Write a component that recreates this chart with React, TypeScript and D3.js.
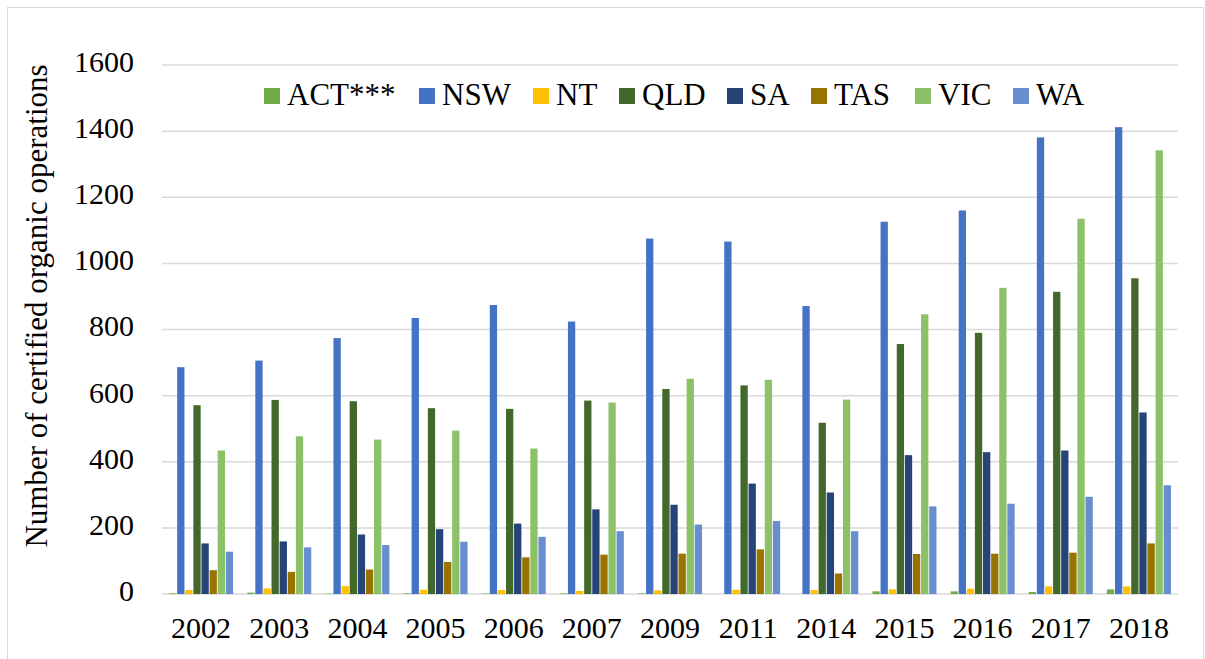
import { useEffect, useRef } from 'react';
import * as d3 from 'd3';

const years = ['2002', '2003', '2004', '2005', '2006', '2007', '2009', '2011', '2014', '2015', '2016', '2017', '2018'];
const states = ['ACT***', 'NSW', 'NT', 'QLD', 'SA', 'TAS', 'VIC', 'WA'];

const act = [2, 4, 1, 2, 1, 2, 2, 0, 0, 8, 8, 6, 14];
const nsw = [686, 706, 774, 835, 874, 824, 1075, 1066, 871, 1126, 1160, 1381, 1412];
const nt = [12, 17, 24, 13, 12, 9, 11, 13, 12, 14, 16, 23, 23];
const qld = [571, 587, 583, 562, 560, 585, 620, 631, 518, 756, 790, 914, 955];
const sa = [153, 159, 180, 196, 213, 256, 270, 334, 307, 420, 429, 434, 549];
const tas = [72, 67, 74, 97, 111, 119, 122, 135, 62, 121, 122, 125, 153];
const vic = [434, 477, 467, 494, 440, 579, 651, 648, 588, 846, 926, 1135, 1342];
const wa = [128, 141, 148, 158, 173, 190, 210, 221, 190, 265, 273, 294, 329];

const series = [act, nsw, nt, qld, sa, tas, vic, wa];
const COLORS = ['#70AD47', '#4472C4', '#FFC000', '#43682B', '#264478', '#997300', '#8CC168', '#698ED0'];
const yTicks = [0, 200, 400, 600, 800, 1000, 1200, 1400, 1600];

const FONT = "'Liberation Serif', 'Times New Roman', 'DejaVu Serif', serif";

export default function App() {
  const svgRef = useRef<SVGSVGElement>(null);

  useEffect(() => {
    if (!svgRef.current) return;
    const width = 1205;
    const height = 659;
    const margin = { top: 65, right: 27, bottom: 65, left: 162 };

    const svg = d3.select(svgRef.current);
    svg.selectAll('*').remove();
    svg.attr('width', width).attr('height', height)
      .style('font-family', FONT);

    // outer chart frame
    svg.append('rect')
      .attr('x', 7.5).attr('y', 7.5)
      .attr('width', width - 9).attr('height', height)
      .attr('fill', '#fff')
      .attr('stroke', '#d9d9d9');

    const x0 = d3.scaleBand()
      .domain(years)
      .range([margin.left, width - margin.right])
      .paddingInner(0.16)
      .paddingOuter(0.08);

    const x1 = d3.scaleBand()
      .domain(states)
      .range([0, x0.bandwidth()])
      .padding(0.1);

    const y = d3.scaleLinear()
      .domain([0, 1600])
      .range([height - margin.bottom, margin.top]);

    // Gridlines
    svg.append('g')
      .selectAll('line')
      .data(yTicks)
      .enter()
      .append('line')
      .attr('x1', margin.left)
      .attr('x2', width - margin.right)
      .attr('y1', d => y(d))
      .attr('y2', d => y(d))
      .attr('stroke', '#d9d9d9')
      .attr('stroke-width', 1.5);

    // Y tick labels
    svg.append('g')
      .selectAll('text')
      .data(yTicks)
      .enter()
      .append('text')
      .attr('x', 134)
      .attr('y', d => y(d))
      .attr('text-anchor', 'end')
      .attr('dominant-baseline', 'middle')
      .attr('font-size', '30px')
      .attr('fill', '#000')
      .text(d => d);

    // Bars
    const groups = svg.append('g')
      .selectAll('g')
      .data(years)
      .enter()
      .append('g')
      .attr('transform', d => `translate(${x0(d)},0)`);

    groups.selectAll('rect')
      .data((_, i) => series.map((s, k) => ({ key: states[k], value: s[i], k })))
      .enter()
      .append('rect')
      .attr('x', d => x1(d.key) || 0)
      .attr('y', d => y(d.value))
      .attr('width', x1.bandwidth())
      .attr('height', d => y(0) - y(d.value))
      .attr('fill', d => COLORS[d.k]);

    // X labels
    svg.append('g')
      .selectAll('text')
      .data(years)
      .enter()
      .append('text')
      .attr('x', d => (x0(d) || 0) + x0.bandwidth() / 2)
      .attr('y', 631)
      .attr('text-anchor', 'middle')
      .attr('dominant-baseline', 'middle')
      .attr('font-size', '30px')
      .attr('fill', '#000')
      .text(d => d);

    // Y axis title
    svg.append('text')
      .attr('transform', 'translate(40, 306) rotate(-90)')
      .attr('text-anchor', 'middle')
      .attr('dominant-baseline', 'middle')
      .attr('font-size', '31px')
      .attr('fill', '#000')
      .text('Number of certified organic operations');

    // Legend
    const legendX = [264, 419, 533, 619, 727, 811, 915, 1013];
    const legend = svg.append('g')
      .selectAll('g')
      .data(states)
      .enter()
      .append('g')
      .attr('transform', (_, i) => `translate(${legendX[i]}, 96)`);

    legend.append('rect')
      .attr('x', 0)
      .attr('y', -8)
      .attr('width', 16)
      .attr('height', 16)
      .attr('fill', (_, i) => COLORS[i]);

    legend.append('text')
      .attr('x', 23)
      .attr('y', 2)
      .attr('dominant-baseline', 'middle')
      .attr('font-size', '31px')
      .attr('fill', '#000')
      .text(d => d);
  }, []);

  return (
    <div style={{ position: 'absolute', left: 0, top: 0 }}>
      <svg ref={svgRef}></svg>
    </div>
  );
}
